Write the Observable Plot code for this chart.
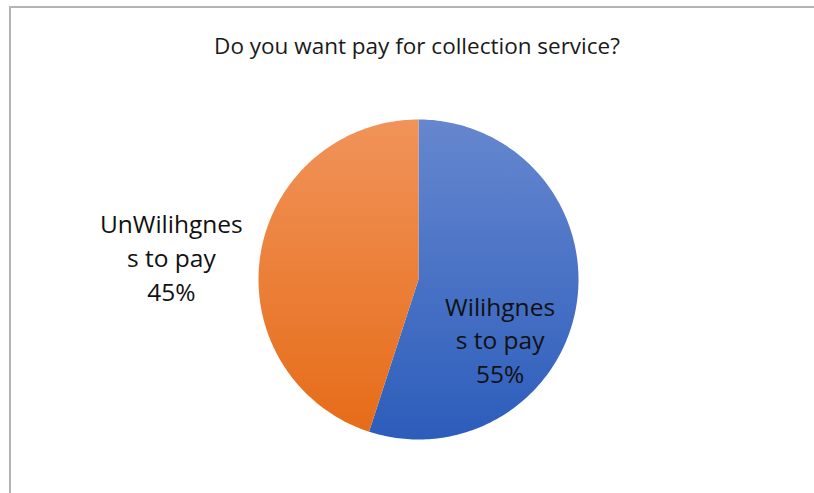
<!DOCTYPE html>
<html>
<head>
<meta charset="utf-8">
<script src="https://cdn.jsdelivr.net/npm/d3@7"></script>
<script src="https://cdn.jsdelivr.net/npm/@observablehq/plot@0.6"></script>
<style>
  html, body { margin: 0; padding: 0; background: #fff; overflow: hidden; }
  #wrap { position: relative; width: 814px; height: 493px; overflow: hidden; }
  #frame { position: absolute; left: 9px; top: 6px; width: 805px; height: 487px;
           border-left: 2px solid #b4b4b4; border-top: 2px solid #b4b4b4; box-sizing: border-box; }
  #title { position: absolute; left: 0; top: 30px; width: 814px; text-align: center;
           font-family: "Open Sans", sans-serif; font-size: 22.5px; line-height: 32px; color: #1a1a1a;
           padding-left: 20px; box-sizing: border-box; white-space: nowrap; }
  #chart { position: absolute; left: 0; top: 0; }
</style>
</head>
<body>
<div id="wrap">
  <div id="frame"></div>
  <div id="title">Do you want pay for collection service?</div>
  <div id="chart"></div>
</div>
<script>
const categories = ["Wilihgnes s to pay", "UnWilihgnes s to pay"];
const labelLines = [["Wilihgnes", "s to pay"], ["UnWilihgnes", "s to pay"]];
const values = [55, 45];
const percentLabels = ["55%", "45%"];

const gradIds = ["gradBlue", "gradOrange"];

// slice angles from the values
const arcs = d3.pie().sort(null).value(d => d)(values);
const polyPts = [];
arcs.forEach((a, i) => {
  polyPts.push({slice: i, x: 0, y: 0});
  const n = 200;
  for (let k = 0; k <= n; k++) {
    const t = a.startAngle + (a.endAngle - a.startAngle) * k / n;
    polyPts.push({slice: i, x: Math.sin(t), y: Math.cos(t)});
  }
  polyPts.push({slice: i, x: 0, y: 0});
});

const labels = arcs.map((a, i) => ({
  text: labelLines[i].concat([percentLabels[i]]).join("\n"),
  x: i === 0 ? 0.51 : -1.545,
  y: i === 0 ? -0.37 : 0.145
}));

const defs = () => {
  const ns = "http://www.w3.org/2000/svg";
  const d = document.createElementNS(ns, "defs");
  const mk = (id, c1, c2) => {
    const g = document.createElementNS(ns, "linearGradient");
    g.setAttribute("id", id);
    g.setAttribute("x1", "0"); g.setAttribute("y1", "0");
    g.setAttribute("x2", "0"); g.setAttribute("y2", "1");
    const s1 = document.createElementNS(ns, "stop");
    s1.setAttribute("offset", "0"); s1.setAttribute("stop-color", c1);
    const s2 = document.createElementNS(ns, "stop");
    s2.setAttribute("offset", "1"); s2.setAttribute("stop-color", c2);
    g.appendChild(s1); g.appendChild(s2);
    d.appendChild(g);
  };
  mk("gradBlue", "#6687cf", "#2c5dbb");
  mk("gradOrange", "#f1935a", "#e66c18");
  return d;
};

const marks = [defs];
arcs.forEach((a, i) => {
  marks.push(Plot.line(polyPts.filter(p => p.slice === i), {
    x: "x", y: "y", fill: `url(#${gradIds[i]})`, stroke: "none", curve: "linear"
  }));
});
marks.push(Plot.text(labels, {
  x: "x", y: "y", text: "text", fontSize: 24.5, lineHeight: 1.37,
  fontFamily: "Open Sans, sans-serif", fill: "#111", textAnchor: "middle"
}));

const plot = Plot.plot({
  width: 814,
  height: 493,
  margin: 0,
  x: {domain: [-1, 1], range: [258, 578], axis: null},
  y: {domain: [-1, 1], range: [439, 119], axis: null},
  style: {background: "transparent", overflow: "visible"},
  marks
});
document.getElementById("chart").appendChild(plot);
</script>
</body>
</html>
